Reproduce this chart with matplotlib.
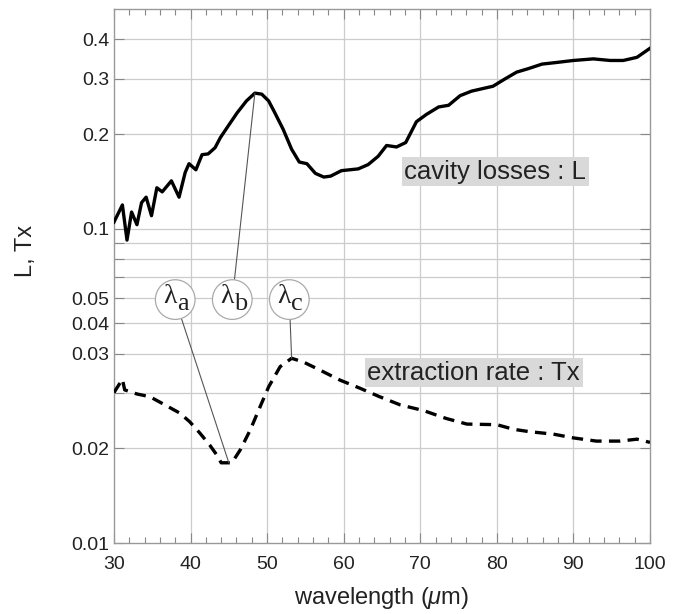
import numpy as np
import matplotlib
matplotlib.use("Agg")
from matplotlib import pyplot as plt
from matplotlib.ticker import FixedLocator, FixedFormatter, MultipleLocator

plt.rcParams['font.family'] = ['Liberation Sans', 'DejaVu Sans']
plt.rcParams['mathtext.fontset'] = 'custom'
plt.rcParams['mathtext.rm'] = 'Liberation Serif'
plt.rcParams['mathtext.it'] = 'Liberation Sans:italic'

# cavity losses L (solid)
wl_L = [30.0, 31.1, 31.7, 32.3, 33.0, 33.6, 34.2, 34.9, 35.6, 36.3, 37.5, 38.5,
        39.3, 39.8, 40.7, 41.5, 42.3, 43.2, 43.9, 44.9, 46.1, 47.3, 48.4, 49.3,
        50.2, 51.0, 52.1, 53.2, 54.2, 55.2, 56.3, 57.4, 58.3, 59.7, 61.9, 63.2,
        64.5, 65.6, 66.9, 68.1, 69.5, 70.8, 72.4, 73.7, 75.2, 76.7, 79.5, 81.1,
        82.6, 84.1, 85.9, 87.8, 90.0, 92.6, 94.8, 96.5, 98.3, 100.0]
L = [0.105, 0.119, 0.092, 0.113, 0.103, 0.121, 0.126, 0.110, 0.135, 0.131, 0.142, 0.126,
     0.151, 0.161, 0.154, 0.172, 0.173, 0.181, 0.195, 0.212, 0.234, 0.255, 0.270, 0.268,
     0.255, 0.234, 0.207, 0.179, 0.163, 0.161, 0.150, 0.146, 0.147, 0.153, 0.155, 0.160,
     0.170, 0.184, 0.182, 0.188, 0.219, 0.231, 0.244, 0.247, 0.265, 0.274, 0.284, 0.300,
     0.315, 0.323, 0.334, 0.338, 0.343, 0.347, 0.343, 0.343, 0.351, 0.375]

# extraction rate Tx (dashed)
wl_Tx = [30.0, 31.1, 31.4, 33.0, 34.7, 36.9, 38.6, 39.9, 41.2, 42.5, 43.4, 44.0,
         45.4, 46.5, 47.8, 49.1, 50.2, 51.7, 53.2, 54.7, 56.9, 59.5, 62.1, 64.7,
         67.4, 70.4, 73.4, 76.1, 80.0, 82.2, 84.3, 87.4, 90.0, 93.0, 96.1, 98.3, 100.0]
Tx = [0.0301, 0.0332, 0.0307, 0.0298, 0.0292, 0.0273, 0.0259, 0.0243, 0.0224, 0.0205, 0.0191, 0.0180,
      0.0180, 0.0198, 0.0229, 0.0272, 0.0314, 0.0364, 0.0387, 0.0377, 0.0355, 0.0330, 0.0311, 0.0292,
      0.0275, 0.0264, 0.0249, 0.0239, 0.0238, 0.0230, 0.0226, 0.0222, 0.0216, 0.0211, 0.0211, 0.0214, 0.0209]

# y tick labels sit where the reference prints them
ytick_pos = [0.01, 0.02, 0.04, 0.05, 0.06, 0.1, 0.2, 0.3, 0.4]
ytick_lab = ['0.01', '0.02', '0.03', '0.04', '0.05', '0.1', '0.2', '0.3', '0.4']
grid_y = [0.02, 0.03, 0.04, 0.05, 0.06, 0.07, 0.08, 0.09, 0.1, 0.2, 0.3, 0.4]

# lambda markers: subscript, circle position, target wavelength, curve
marks = [('a', 38.0, 45.0, 'Tx'),
         ('b', 45.45, 48.4, 'L'),
         ('c', 52.9, 53.2, 'Tx')]
mark_y = 0.0595

fig = plt.figure(figsize=(6.76, 6.14), dpi=100)
ax = fig.add_axes([0.1686, 0.1156, 0.7929, 0.8697])
ax.set_yscale('log')
ax.set_xlim(30, 100)
ax.set_ylim(0.01, 0.5)

# grid
for g in grid_y:
    ax.axhline(g, color='#cccccc', lw=0.9, zorder=0)
for g in range(40, 100, 10):
    ax.axvline(g, color='#cccccc', lw=0.9, zorder=0)

ax.plot(wl_L, L, color='black', lw=2.4, solid_joinstyle='round', zorder=3)
ax.plot(wl_Tx, Tx, color='black', lw=2.4, linestyle=(0, (3.4, 2.2)), zorder=3)

ax.yaxis.set_major_locator(FixedLocator(ytick_pos))
ax.yaxis.set_major_formatter(FixedFormatter(ytick_lab))
ax.yaxis.set_minor_locator(FixedLocator(grid_y))
ax.xaxis.set_major_locator(MultipleLocator(10))
ax.xaxis.set_minor_locator(MultipleLocator(2))
ax.tick_params(which='both', direction='in', top=True, right=True,
               color='#888888', labelsize=14, labelcolor='#222222')
ax.tick_params(which='major', length=7, width=0.8)
ax.tick_params(which='minor', length=4, width=0.8)
ax.tick_params(axis='y', which='minor', length=7)
ax.tick_params(axis='x', pad=9)
for s in ax.spines.values():
    s.set_color('#999999')
    s.set_linewidth(1.0)

ax.set_xlabel(r'wavelength ($\mu$m)', fontsize=17, labelpad=9, color='#222222')
ax.set_ylabel('L, Tx', fontsize=17, color='#222222')
ax.yaxis.set_label_coords(-0.143, 0.547)

box = dict(boxstyle='square,pad=0.1', facecolor='#d9d9d9', edgecolor='none')
ax.text(67.9, 0.1516, 'cavity losses : L', fontsize=18.5, va='center', ha='left',
        color='#222222', bbox=box, zorder=4)
ax.text(63.1, 0.0348, 'extraction rate : Tx', fontsize=18.5, va='center', ha='left',
        color='#222222', bbox=box, zorder=4)

for sub, cx, tw, which in marks:
    if which == 'L':
        ty = np.interp(tw, wl_L, L)
    else:
        ty = np.interp(tw, wl_Tx, Tx)
    # circle + leader line
    ax.annotate(' ', xy=(tw, ty), xytext=(cx, mark_y), fontsize=21,
                ha='center', va='center', zorder=5,
                bbox=dict(boxstyle='circle,pad=0.2', facecolor='white',
                          edgecolor='#aaaaaa', lw=0.9),
                arrowprops=dict(arrowstyle='-', color='#555555', lw=0.8,
                                shrinkA=0, shrinkB=0))
    ax.annotate('λ', xy=(cx, mark_y), xytext=(1, 2), textcoords='offset points',
                fontsize=20, family='Liberation Serif', ha='right', va='center',
                color='#222222', zorder=6)
    ax.annotate(sub, xy=(cx, mark_y), xytext=(1.5, -3), textcoords='offset points',
                fontsize=19, family='Liberation Serif', ha='left', va='center',
                color='#222222', zorder=6)

plt.savefig('out.png', dpi=100)
